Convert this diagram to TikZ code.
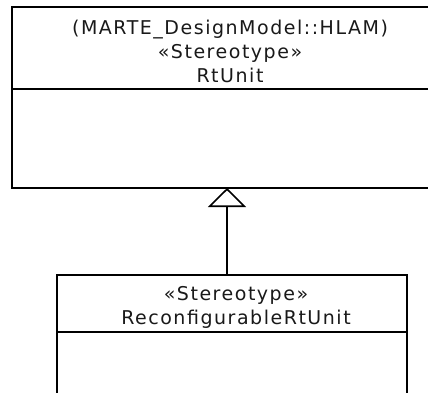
\documentclass[tikz,border=0pt]{standalone}
\usepackage{fontspec}
\setmainfont{DejaVu Sans}[LetterSpace=8]
\usepackage{tikz}
\usetikzlibrary{arrows.meta,positioning}

\begin{document}
\begin{tikzpicture}[x=1pt, y=-1pt,
  every node/.style={font=\fontsize{19}{24}\selectfont, text=black!90},
  classname/.style={align=center, inner sep=0pt},
  classbox/.style={draw, line width=1.6pt, outer sep=0pt},
  inherit/.style={line width=1.6pt, -{Triangle[open, length=19pt, width=38pt]}}]
  \useasboundingbox (0,0) rectangle (428,392);
  \clip (0,0) rectangle (428,392);

  % parent class
  \node[classbox, minimum width=436pt, minimum height=82pt] (rtunit) at (230,48) {};
  \node[classbox, minimum width=436pt, minimum height=99pt, below=0pt of rtunit] (rtunitbody) {};
  \node[classname] (rtunitname) at (230,51)
    {(MARTE\_DesignModel::HLAM)\\«Stereotype»\\RtUnit};

  % child class
  \node[classbox, minimum width=350pt, minimum height=57pt] (reconf) at (232,303.5) {};
  \node[classbox, minimum width=350pt, minimum height=80pt, below=0pt of reconf] (reconfbody) {};
  \node[classname] (reconfname) at (236,307.5)
    {«Stereotype»\\ReconfigurableRtUnit};

  \draw[inherit] ([xshift=-5pt]reconf.north) -- ([xshift=-5pt]reconf.north |- rtunitbody.south);
\end{tikzpicture}
\end{document}
